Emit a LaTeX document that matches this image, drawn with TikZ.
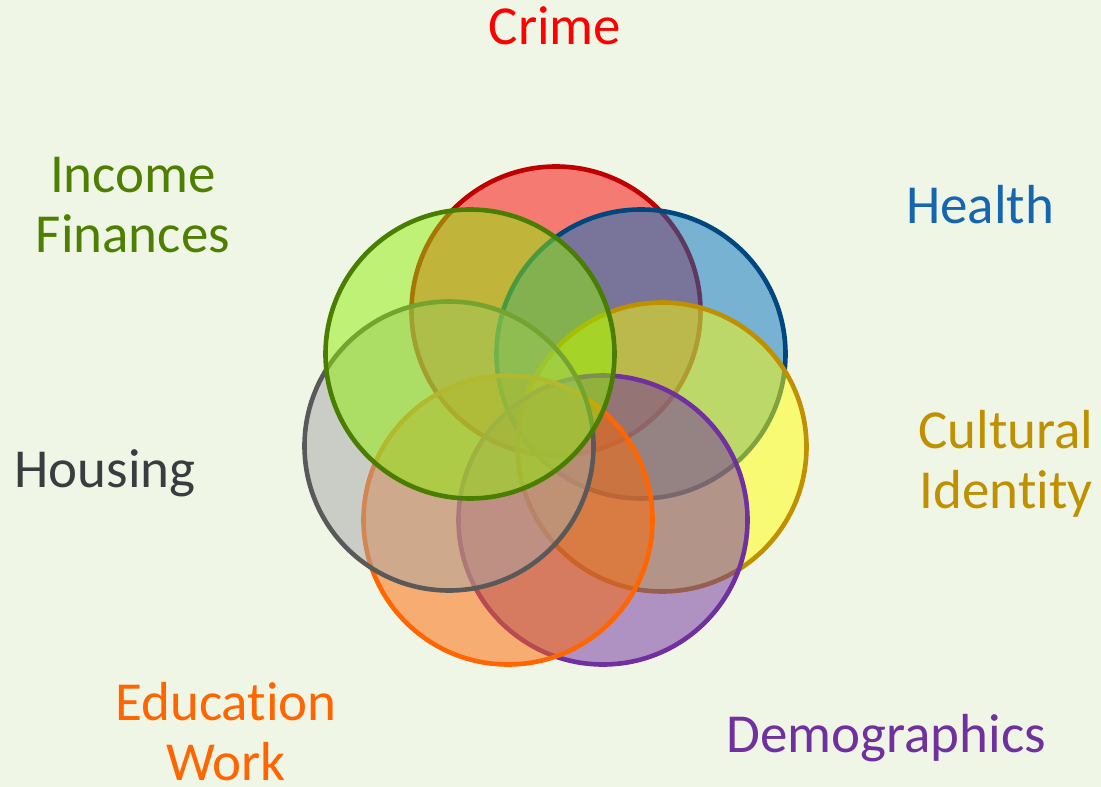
\documentclass[tikz,border=0pt]{standalone}
\usepackage{fontspec}
\setmainfont{Carlito}[RawFeature={-liga;-clig;-dlig}]
\definecolor{bgc}{RGB}{239,246,230}
\definecolor{redf}{RGB}{250,0,0}
\definecolor{redd}{RGB}{192,0,0}
\definecolor{bluef}{RGB}{0,112,192}
\definecolor{blued}{RGB}{0,70,127}
\definecolor{yelf}{RGB}{255,255,0}
\definecolor{yeld}{RGB}{191,144,0}
\definecolor{purf}{RGB}{112,48,160}
\definecolor{purd}{RGB}{112,48,160}
\definecolor{oraf}{RGB}{255,102,0}
\definecolor{orad}{RGB}{255,102,0}
\definecolor{grayf}{RGB}{166,166,166}
\definecolor{grayd}{RGB}{89,89,89}
\definecolor{grnf}{RGB}{143,238,6}
\definecolor{grnd}{RGB}{74,126,0}
\definecolor{tcrime}{RGB}{255,0,0}
\definecolor{thealth}{RGB}{21,101,176}
\definecolor{tcult}{RGB}{191,144,0}
\definecolor{tdemo}{RGB}{112,48,160}
\definecolor{tedu}{RGB}{255,102,0}
\definecolor{thouse}{RGB}{58,60,64}
\definecolor{tinc}{RGB}{78,127,0}
\tikzset{
  ring/.style 2 args={circle, minimum size=289pt, inner sep=0pt, line width=4.6pt, draw=#2, fill=#1, fill opacity=0.5, draw opacity=1},
  lbl/.style={font=\fontsize{55}{60}\selectfont, align=center, anchor=base, inner sep=0pt}
}
\begin{document}
\begin{tikzpicture}[x=1pt,y=-1pt]
\fill[bgc] (0,0) rectangle (1101,787);
\useasboundingbox (0,0) rectangle (1101,787);
\node[ring={redf}{redd}]   (crime)  at (556,311) {};
\node[ring={bluef}{blued}] (health) at (641,354) {};
\node[ring={yelf}{yeld}]   (cult)   at (662,447) {};
\node[ring={purf}{purd}]   (demo)   at (603,520) {};
\node[ring={oraf}{orad}]   (edu)    at (508,520) {};
\node[ring={grayf}{grayd}] (house)  at (449,446) {};
\node[ring={grnf}{grnd}]   (inc)    at (470,354) {};
\node[lbl, text=tcrime]  (lcrime)  at (555,45)  {Crime};
\node[lbl, text=thealth] (lhealth) at (980,223) {Health};
\node[lbl, text=tcult]   (lcult)   at (1006,508) {Cultural\\Identity};
\node[lbl, text=tdemo]   (ldemo)   at (886,752) {Demographics};
\node[lbl, text=tedu]    (ledu)    at (226,780) {Education\\Work};
\node[lbl, text=thouse]  (lhouse)  at (105,487) {Housing};
\node[lbl, text=tinc]    (linc)    at (133,252) {Income\\Finances};
\end{tikzpicture}
\end{document}
